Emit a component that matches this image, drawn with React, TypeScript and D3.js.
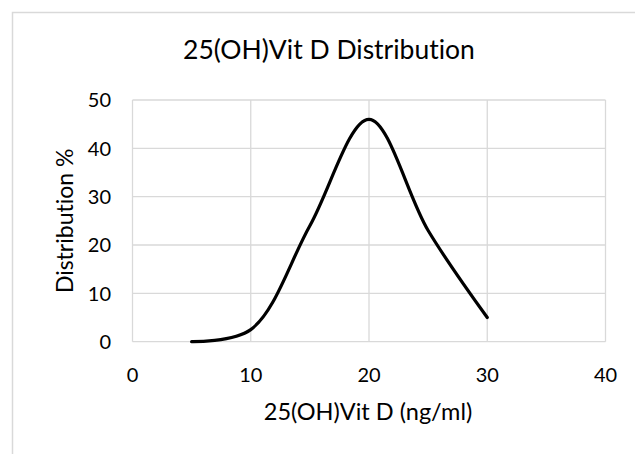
import * as d3 from "d3";

// 25(OH)Vit D concentration (ng/ml) and share of patients (%)
const vitD = [5, 10, 15, 20, 25, 30];
const distribution = [0, 2.5, 24, 46, 23, 5];

const xTicks = [0, 10, 20, 30, 40];
const yTicks = [0, 10, 20, 30, 40, 50];

const TITLE = "25(OH)Vit D Distribution";
const X_TITLE = "25(OH)Vit D (ng/ml)";
const Y_TITLE = "Distribution %";

const W = 635;
const H = 454;
const FONT = "Lato, 'Open Sans', sans-serif";
const GRID = "#d9d9d9";

export default function App() {
  const x = d3.scaleLinear().domain([0, 40]).range([132.5, 605.5]);
  const y = d3.scaleLinear().domain([0, 50]).range([341.7, 100]);

  const points = vitD.map((v, i) => [v, distribution[i]] as [number, number]);
  const line = d3
    .line<[number, number]>()
    .x((d) => x(d[0]))
    .y((d) => y(d[1]))
    .curve(d3.curveCatmullRom.alpha(0.5));

  return (
    <svg
      width={W}
      height={H}
      viewBox={`0 0 ${W} ${H}`}
      style={{
        position: "absolute",
        left: 0,
        top: 0,
        display: "block",
        background: "#fff",
        fontVariantLigatures: "none",
        fontFeatureSettings: "'liga' 0, 'clig' 0",
      }}
      fontFamily={FONT}
    >
      <rect x={12.5} y={12.5} width={700} height={500} fill="#fff" stroke={GRID} strokeWidth={1.5} />

      <text x={329} y={59} textAnchor="middle" fontSize={26.5} fill="#000">
        {TITLE}
      </text>

      {/* gridlines */}
      {yTicks.map((t) => (
        <line key={`gy${t}`} x1={x(0)} x2={x(40)} y1={y(t)} y2={y(t)} stroke={GRID} strokeWidth={1.3} />
      ))}
      {xTicks.map((t) => (
        <line key={`gx${t}`} x1={x(t)} x2={x(t)} y1={y(0)} y2={y(50)} stroke={GRID} strokeWidth={1.3} />
      ))}

      {/* tick labels */}
      {yTicks.map((t) => (
        <text key={`ly${t}`} x={111} y={y(t)} dy="0.36em" textAnchor="end" fontSize={20} fill="#000">
          {t}
        </text>
      ))}
      {xTicks.map((t) => (
        <text key={`lx${t}`} x={x(t)} y={381.5} textAnchor="middle" fontSize={20} fill="#000">
          {t}
        </text>
      ))}

      <path
        d={line(points) ?? ""}
        fill="none"
        stroke="#000"
        strokeWidth={3.2}
        strokeLinecap="round"
        strokeLinejoin="round"
      />

      <text x={368} y={420} textAnchor="middle" fontSize={23.5} fill="#000">
        {X_TITLE}
      </text>
      <text
        transform={`translate(73,${(y(0) + y(50)) / 2}) rotate(-90)`}
        textAnchor="middle"
        fontSize={23}
        fill="#000"
      >
        {Y_TITLE}
      </text>
    </svg>
  );
}
